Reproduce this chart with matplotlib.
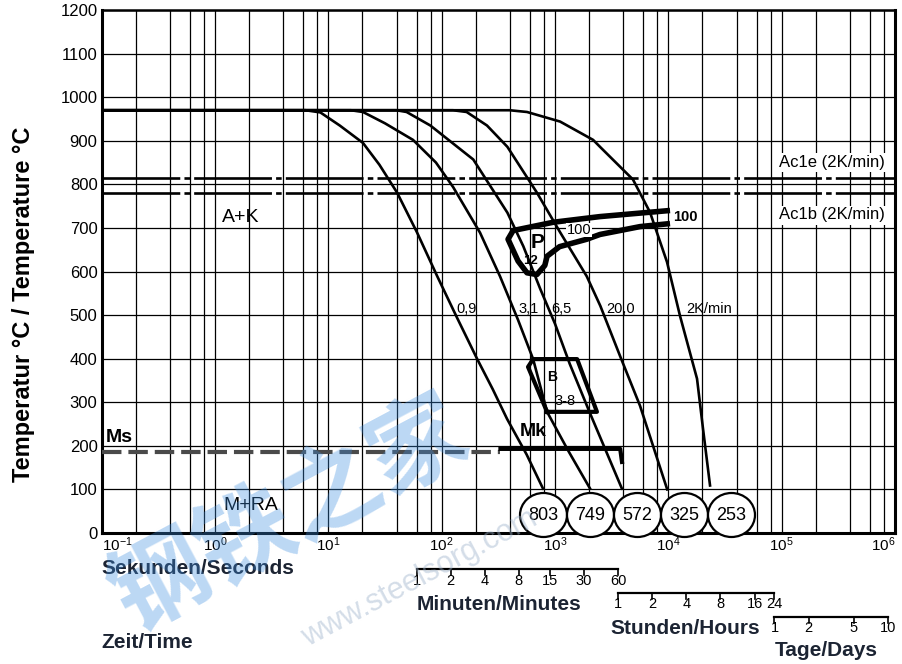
import matplotlib
matplotlib.use('Agg')
import matplotlib.pyplot as plt
import matplotlib.transforms as mtransforms
from matplotlib.patches import Ellipse
from matplotlib.ticker import NullFormatter

plt.rcParams['font.family'] = ['Liberation Sans', 'DejaVu Sans']
plt.rcParams['mathtext.fontset'] = 'custom'
plt.rcParams['mathtext.rm'] = 'Liberation Sans'
plt.rcParams['mathtext.it'] = 'Liberation Sans'
plt.rcParams['mathtext.bf'] = 'Liberation Sans:bold'
plt.rcParams['lines.scale_dashes'] = False

# ---------------- data ----------------
austenitizing_T = 970
Ac1e_T = 815
Ac1b_T = 780
Ms_T = 186
Mk_T = 193

curve_labels = ['0,9', '3,1', '6,5', '20,0', '2K/min']
hardness_HV = [803, 749, 572, 325, 253]

# cooling curves: time in s, temperature in degC
curveA_t = [0.1, 6.3, 8.5, 12.6, 20.2, 28.2, 40.4, 60.5, 91, 136, 205, 282, 377, 562, 783]
curveA_T = [970, 970, 965, 935, 895, 845, 781, 690, 590, 495, 400, 330, 262, 180, 102]
curveB_t = [0.1, 15.8, 20.2, 31.6, 55.8, 89, 126, 218, 327, 470, 641, 851, 1300, 2037]
curveB_T = [970, 970, 966, 940, 902, 850, 794, 689, 589, 490, 399, 278, 190, 102]
curveC_t = [0.1, 39.8, 49, 79.4, 190, 380, 525, 741, 1000, 1349, 2042, 3890]
curveC_T = [970, 970, 966, 935, 857, 735, 658, 560, 480, 388, 274, 102]
curveD_t = [0.1, 126, 166, 251, 380, 692, 1109, 1905, 2512, 3750, 5623, 9772]
curveD_T = [970, 970, 966, 935, 886, 781, 690, 589, 521, 406, 292, 100]
curveE_t = [0.1, 398, 566, 1109, 2168, 2495, 4875, 6887, 9727, 12680, 17910, 20230, 23330]
curveE_T = [970, 970, 966, 944, 902, 886, 811, 736, 622, 498, 354, 239, 109]

# pearlite field boundary (start line -> nose -> end line)
pearlite_t = [10350, 2495, 966, 427, 385, 472, 566, 692, 813, 851, 1096, 1905, 2495, 5623, 10350]
pearlite_T = [740, 726, 713, 694, 674, 624, 597, 593, 614, 635, 657, 674, 685, 703, 710]
# bainite field boundary
bainite_t = [851, 2344, 1567, 641, 578, 851]
bainite_T = [278, 278, 399, 399, 381, 278]

# martensite finish line
Mk_t = [330, 3760, 3900]
Mk_Tl = [Mk_T, Mk_T, 163]

minutes_ticks = [1, 2, 4, 8, 15, 30, 60]
hours_ticks = [1, 2, 4, 8, 16, 24]
days_ticks = [1, 2, 5, 10]

# ---------------- figure ----------------
W, H = 903, 664
fig = plt.figure(figsize=(W / 100, H / 100), dpi=100)
L, R, T, B = 101.7, 895, 10, 533
ax = fig.add_axes([L / W, 1 - B / H, (R - L) / W, (B - T) / H])
ax.set_xscale('log')
ax.set_xlim(0.1, 1e6)
ax.set_ylim(0, 1200)


def fxy(x, y):
    return (x / W, 1 - y / H)


major = [10.0 ** k for k in range(-1, 7)]
ax.set_xticks(major)
ax.set_xticklabels(['$10^{%d}$' % k for k in range(-1, 7)], fontsize=11)
minor = [m * 10.0 ** k for k in range(-1, 6) for m in (2, 4, 6, 8)]
ax.set_xticks(minor, minor=True)
ax.xaxis.set_minor_formatter(NullFormatter())
ax.set_yticks(range(0, 1201, 100))
ax.set_yticklabels([str(v) for v in range(0, 1201, 100)], fontsize=12)
ax.tick_params(which='both', length=0)
ax.tick_params(axis='x', pad=2)
ax.tick_params(axis='y', pad=3)
lbls = ax.get_xticklabels()
lbls[0].set_ha('left')
lbls[-1].set_ha('right')
ax.grid(which='both', axis='x', color='black', lw=0.9, zorder=1)
ax.grid(which='major', axis='y', color='black', lw=0.9, zorder=1)
ax.set_axisbelow(True)
for s in ['left', 'bottom', 'right']:
    ax.spines[s].set_linewidth(2.2)
ax.spines['top'].set_linewidth(1.8)

# Ac1 lines
ax.axhline(Ac1e_T, color='black', lw=1.9, dashes=(56, 3, 4, 3), zorder=3)
ax.axhline(Ac1b_T, color='black', lw=1.9, dashes=(56, 3, 4, 3), dash_capstyle='butt', zorder=3)

# cooling curves
for ct, cT in [(curveA_t, curveA_T), (curveB_t, curveB_T), (curveC_t, curveC_T),
               (curveD_t, curveD_T), (curveE_t, curveE_T)]:
    ax.plot(ct, cT, color='black', lw=1.9, zorder=4, solid_joinstyle='round')

# Ms dashed
ax.plot([0.1, 330], [Ms_T, Ms_T], color='#4a4a4a', lw=3.0, dashes=(14, 5), zorder=4)
ax.plot(Mk_t, Mk_Tl, color='black', lw=3.0, zorder=4, solid_joinstyle='round')

# transformation fields
ax.plot(pearlite_t, pearlite_T, color='black', lw=4.0, zorder=5,
        solid_joinstyle='round', solid_capstyle='butt')
ax.plot(bainite_t, bainite_T, color='black', lw=3.0, zorder=5, solid_joinstyle='round')

# Ac1 labels
for txt, y in [('Ac1e (2K/min)', 162), ('Ac1b (2K/min)', 215)]:
    fig.text(*fxy(832, y), txt, fontsize=12, ha='center', va='center', zorder=6,
             bbox=dict(facecolor='white', edgecolor='none', pad=1.5))

# curve labels
for txt, x in zip(curve_labels, [467, 529, 561, 621, 709]):
    fig.text(*fxy(x, 309), txt, fontsize=10.5, ha='center', va='center', zorder=6)

# field labels
fig.text(*fxy(241, 217), 'A+K', fontsize=14, ha='center', va='center')
fig.text(*fxy(251, 505), 'M+RA', fontsize=14, ha='center', va='center')
fig.text(*fxy(119, 437), 'Ms', fontsize=14, fontweight='bold', ha='center', va='center')
fig.text(*fxy(533, 432), 'Mk', fontsize=14, fontweight='bold', ha='center', va='center')
fig.text(*fxy(538, 242), 'P', fontsize=15, fontweight='bold', ha='center', va='center', zorder=7)
fig.text(*fxy(531, 261), '12', fontsize=9.5, fontweight='bold', ha='center', va='center', zorder=7)
fig.text(*fxy(579, 230), '100', fontsize=10.5, ha='center', va='center', zorder=7,
         bbox=dict(facecolor='white', edgecolor='none', pad=0.3))
fig.text(*fxy(685, 217), '100', fontsize=10.5, fontweight='bold', ha='center', va='center', zorder=7)
fig.text(*fxy(552, 377), 'B', fontsize=10, fontweight='bold', ha='center', va='center', zorder=7)
fig.text(*fxy(565, 401), '3-8', fontsize=10.5, ha='center', va='center', zorder=7)

# hardness circles
cx0 = (543.5 - L) / (R - L)
step = 47 / (R - L)
cy = (B - 515) / (B - T)
for i, hv in enumerate(hardness_HV):
    e = Ellipse((cx0 + i * step, cy), 47 / (R - L), 44 / (B - T), transform=ax.transAxes,
                facecolor='white', edgecolor='black', lw=1.6, zorder=8, clip_on=False)
    ax.add_patch(e)
    ax.text(cx0 + i * step, cy, str(hv), transform=ax.transAxes, fontsize=13,
            ha='center', va='center', zorder=9)

# axis labels
fig.text(*fxy(24, 304), 'Temperatur °C / Temperature °C', rotation=90, fontsize=17,
         fontweight='bold', ha='center', va='center')
fig.text(*fxy(101, 568), 'Sekunden/Seconds', fontsize=15, fontweight='bold',
         ha='left', va='center', color='#1c2433')
fig.text(*fxy(101, 642), 'Zeit/Time', fontsize=15, fontweight='bold',
         ha='left', va='center', color='#1c2433')

# secondary time scales
bt = mtransforms.blended_transform_factory(ax.transData, fig.transFigure)


def scale(ticks, factor, ypx, lab_ypx):
    xs = [v * factor for v in ticks]
    y = 1 - ypx / H
    yt = 1 - (ypx + 6) / H
    fig.add_artist(plt.Line2D([xs[0], xs[-1]], [y, y], transform=bt, color='black', lw=1.6))
    for x, v in zip(xs, ticks):
        fig.add_artist(plt.Line2D([x, x], [y, yt], transform=bt, color='black', lw=1.2))
        fig.text(x, 1 - lab_ypx / H, str(v), transform=bt, fontsize=10.5,
                 ha='center', va='center')
    return xs


mx = scale(minutes_ticks, 60, 569, 581)
hx = scale(hours_ticks, 3600, 593, 604)
dx = scale(days_ticks, 86400, 617, 628)
fig.text(mx[0], 1 - 605 / H, 'Minuten/Minutes', transform=bt, fontsize=15,
         fontweight='bold', ha='left', va='center', color='#1c2433')
fig.text(760 / W, 1 - 628 / H, 'Stunden/Hours', fontsize=15,
         fontweight='bold', ha='right', va='center', color='#1c2433')
fig.text(dx[0], 1 - 651 / H, 'Tage/Days', transform=bt, fontsize=15,
         fontweight='bold', ha='left', va='center', color='#1c2433')

# watermark
fig.text(*fxy(290, 515), '钢铁之家', fontsize=70, fontweight='bold', rotation=28,
         family=['Noto Sans CJK SC', 'DejaVu Sans'], color='#3f8fe0', alpha=0.35,
         ha='center', va='center', zorder=20)
fig.text(*fxy(420, 578), 'www.steelsorg.com', fontsize=22, rotation=28,
         color='#9fb4cc', alpha=0.45, ha='center', va='center', zorder=20)

fig.savefig('out.png', dpi=100)
